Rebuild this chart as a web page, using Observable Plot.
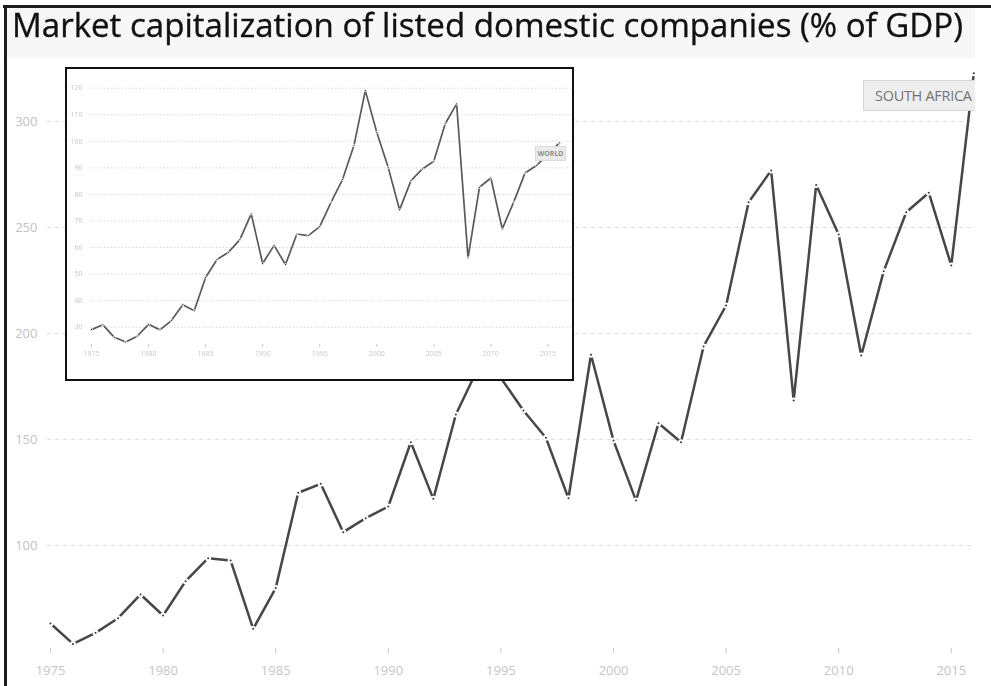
<!DOCTYPE html>
<html>
<head>
<meta charset="utf-8">
<script src="https://cdn.jsdelivr.net/npm/d3@7"></script>
<script src="https://cdn.jsdelivr.net/npm/@observablehq/plot@0.6"></script>
<style>
html,body{margin:0;padding:0;background:#fff;}
body{width:991px;height:686px;position:relative;overflow:hidden;font-family:"Open Sans",sans-serif;}
#topline{position:absolute;left:3px;top:5px;width:988px;height:3px;background:#1c1c1c;}
#leftline{position:absolute;left:4px;top:5px;width:3px;height:681px;background:#1c1c1c;}
#band{position:absolute;left:7px;top:8px;width:968px;height:50px;background:#f7f7f7;}
#title{position:absolute;left:12px;top:9px;font-size:33px;line-height:32px;color:#111;white-space:nowrap;transform-origin:0 0;font-family:"Open Sans",sans-serif;-webkit-text-stroke:0.35px #111;}
#main{position:absolute;left:8px;top:58px;width:967px;height:628px;overflow:hidden;}
#main svg{display:block;}
#salabel{position:absolute;left:855px;top:22px;width:130px;height:29px;background:#eeeeee;border:1px solid #d6d6d6;color:#737373;font-size:14.5px;letter-spacing:-0.3px;line-height:29px;padding-left:11px;box-sizing:content-box;white-space:nowrap;font-family:"Open Sans",sans-serif;}
#inset{position:absolute;left:65px;top:67px;width:505px;height:310px;border:2px solid #111;background:#fff;overflow:hidden;}
#inset svg{display:block;filter:blur(0.3px);}
#worldlabel{position:absolute;left:468px;top:77px;width:29px;height:13px;background:#ebebeb;border:1px solid #dcdcdc;color:#8f8f8f;font-size:7px;font-weight:bold;line-height:13px;text-align:center;font-family:"Open Sans",sans-serif;}
</style>
</head>
<body>
<div id="band"></div>
<div id="topline"></div>
<div id="leftline"></div>
<div id="title">Market capitalization of listed domestic companies (% of GDP)</div>
<div id="main"></div>
<div id="inset"></div>
<script>
// ---- data ----
const years = [1975,1976,1977,1978,1979,1980,1981,1982,1983,1984,1985,1986,1987,1988,1989,1990,1991,1992,1993,1994,1995,1996,1997,1998,1999,2000,2001,2002,2003,2004,2005,2006,2007,2008,2009,2010,2011,2012,2013,2014,2015,2016];
const southAfrica = [63.2,53.6,58.8,65.7,76.9,67.0,83.2,94.0,92.9,60.7,79.9,124.9,129.1,106.3,112.9,118.4,148.7,122.0,161.8,184.0,179.0,163.7,150.8,122.3,190.0,149.5,121.2,157.7,148.7,193.9,213.2,261.9,276.9,168.4,270.1,246.7,189.6,229.4,257.2,266.4,232.1,322.8];
const world = [29.1,30.9,26.2,24.4,26.6,31.1,29.0,32.5,38.5,36.2,48.7,55.5,58.2,63.0,72.7,54.0,60.8,53.6,65.1,64.5,67.9,77.1,85.6,98.4,119.1,103.4,90.2,74.2,85.2,89.6,92.5,106.6,114.1,56.1,82.7,86.2,67.0,77.1,88.1,90.9,94.9,99.4];
const xTicks = [1975,1980,1985,1990,1995,2000,2005,2010,2015];
const mainYTicks = [100,150,200,250,300];
const insetYTicks = [30,40,50,60,70,80,90,100,110,120];
const titleText = "Market capitalization of listed domestic companies (% of GDP)";
const mainLabel = "SOUTH AFRICA";
const insetLabel = "WORLD";

const saData = years.map((year, i) => ({year, value: southAfrica[i]}));
const worldData = years.map((year, i) => ({year, value: world[i]}));

// ---- main chart ----
const main = Plot.plot({
  width: 967, height: 628,
  marginLeft: 39, marginRight: 0, marginTop: 5, marginBottom: 38,
  style: {fontFamily: "Open Sans, sans-serif", fontSize: "13px", background: "transparent", overflow: "visible"},
  x: {domain: [1974.867, 2016.075], label: null},
  y: {domain: [51.42, 327.36], label: null},
  marks: [
    Plot.gridY(mainYTicks, {stroke: "#dcdcdc", strokeOpacity: 1, strokeDasharray: "4,4"}),
    Plot.axisY(mainYTicks, {tickSize: 0, tickPadding: 10, color: "#c2c2c2", label: null}),
    Plot.axisX(xTicks, {tickSize: 5, tickPadding: 12, color: "#c6c6c6", label: null, tickFormat: d => String(d)}),
    Plot.line(saData, {x: "year", y: "value", stroke: "#474747", strokeWidth: 2.5}),
    Plot.dot(saData, {x: "year", y: "value", r: 2, fill: "#333", stroke: "#fff", strokeWidth: 2})
  ]
});
const mainDiv = document.getElementById("main");
mainDiv.appendChild(main);
const sa = document.createElement("div");
sa.id = "salabel";
sa.textContent = mainLabel;
mainDiv.appendChild(sa);

// ---- inset chart (World) ----
const inset = Plot.plot({
  width: 505, height: 310,
  marginLeft: 23, marginRight: 0, marginTop: 10, marginBottom: 35,
  style: {fontFamily: "Open Sans, sans-serif", fontSize: "7px", background: "#fff"},
  x: {domain: [1974.912, 2017.156], label: null},
  y: {domain: [23.49, 123.28], label: null},
  marks: [
    Plot.gridY(insetYTicks, {stroke: "#d6d6d6", strokeOpacity: 1, strokeDasharray: "1.5,2"}),
    Plot.axisY(insetYTicks, {tickSize: 0, tickPadding: 8, color: "#c4c4c4", label: null}),
    Plot.axisX(xTicks, {tickSize: 3, tickPadding: 4, color: "#c8c8c8", label: null, tickFormat: d => String(d)}),
    Plot.line(worldData, {x: "year", y: "value", stroke: "#5a5a5a", strokeWidth: 1.7}),
    Plot.dot(worldData, {x: "year", y: "value", r: 1.1, fill: "#333", stroke: "#fff", strokeWidth: 0.9})
  ]
});
const insetDiv = document.getElementById("inset");
insetDiv.appendChild(inset);
const wl = document.createElement("div");
wl.id = "worldlabel";
wl.textContent = insetLabel;
insetDiv.appendChild(wl);

// ---- title fit ----
const title = document.getElementById("title");
title.textContent = titleText;
function fitTitle() {
  title.style.transform = "none";
  const w = title.getBoundingClientRect().width;
  if (w > 0) title.style.transform = `scaleX(${951 / w})`;
}
fitTitle();
if (document.fonts && document.fonts.ready) document.fonts.ready.then(fitTitle);
</script>
</body>
</html>
